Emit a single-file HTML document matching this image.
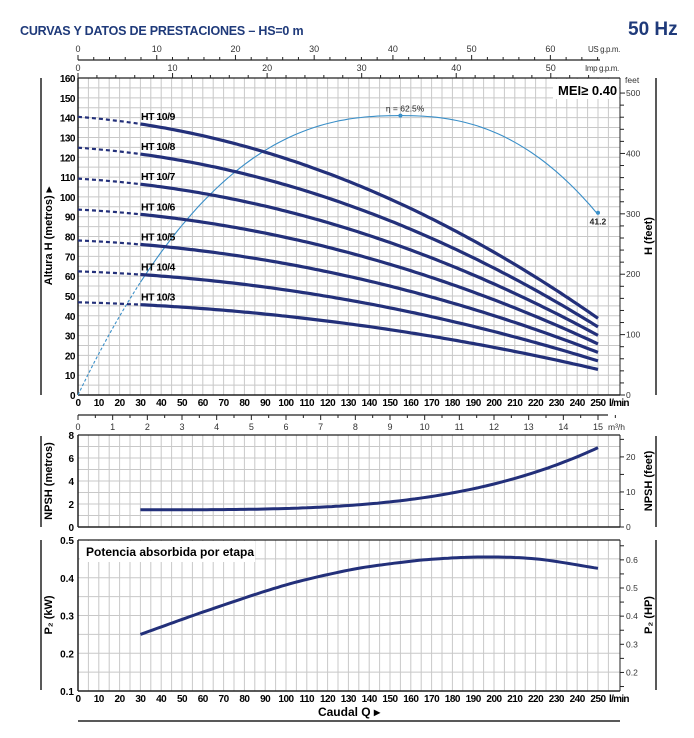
<!DOCTYPE html>
<html><head><meta charset="utf-8"><style>
body{margin:0;background:#fff;}
svg text{font-family:"Liberation Sans",sans-serif;}
</style></head><body>
<svg id="s" width="694" height="733" viewBox="0 0 694 733" xmlns="http://www.w3.org/2000/svg">
<text x="20" y="35" font-size="12.5" font-weight="bold" fill="#1f3a7a" letter-spacing="-0.2">CURVAS Y DATOS DE PRESTACIONES  –  HS=0 m</text>
<text x="628" y="35" font-size="19" font-weight="bold" fill="#1f3a7a">50 Hz</text>
<g id="g"></g>
</svg>
<script>
var g=document.getElementById('g');var h='';
var X0=78,PX=2.08;function X(q){return X0+q*PX;}
var XR=620;
function line(x1,y1,x2,y2,c,w,extra){h+='<line x1="'+x1+'" y1="'+y1+'" x2="'+x2+'" y2="'+y2+'" stroke="'+c+'" stroke-width="'+w+'" '+(extra||'')+'/>';}
function txt(x,y,t,fs,a,extra){h+='<text x="'+x+'" y="'+y+'" font-size="'+fs+'" text-anchor="'+(a||'start')+'" '+(extra||'')+'>'+t+'</text>';}
function path(pts,c,w,extra){var d='M'+pts.map(function(p){return p[0].toFixed(1)+','+p[1].toFixed(1)}).join('L');h+='<path d="'+d+'" fill="none" stroke="'+c+'" stroke-width="'+w+'" '+(extra||'')+'/>';}
var GC='#c8c8c8';
function grid(top,bot){for(var q=5;q<260;q+=5){line(X(q),top,X(q),bot,GC,1);}}
var T=78,B=395,YM=(B-T)/160;function Y(v){return B-v*YM;}
grid(T,B);
for(var v=5;v<160;v+=5)line(X0,Y(v),XR,Y(v),GC,1);
line(X0,T,XR,T,'#222',1.2);line(X0,B,XR,B,'#222',1.5);line(X0,T,X0,B,'#222',1.5);line(XR,T,XR,B,'#222',1);
h+='<rect x="553" y="79" width="66" height="20" fill="#fff"/>';
txt(558,95,'MEI≥ 0.40',13,'start','font-weight="bold"');
for(var v=0;v<=160;v+=10)txt(75,Y(v)+4,v,10,'end','font-weight="bold" letter-spacing="-0.5"');
for(var q=0;q<=250;q+=10)txt(X(q),406,q,10,'middle','font-weight="bold" letter-spacing="-0.5"');
txt(609,406,'l/min',10,'start','font-weight="bold" letter-spacing="-0.7"');
for(var f=0;f<=500;f+=20){var y=Y(f*0.3048);if(y<T-14)continue;line(XR,y,XR+(f%100==0?5:4),y,'#222',1);}
for(var f=0;f<=500;f+=100){txt(XR+6,Y(f*0.3048)+3,f,8.5,'start','fill="#333"');}
txt(XR+5,83,'feet',8.5,'start','fill="#333"');
line(656,78,656,395,'#222',1.5);line(41,78,41,395,'#222',1.5);
txt(0,0,'Altura H (metros)  ▸',11,'middle','font-weight="bold" transform="translate(52,236) rotate(-90)"');
txt(0,0,'H  (feet)',11,'middle','font-weight="bold" transform="translate(652,236) rotate(-90)"');
line(X0,60,XR-20,60,'#222',1.2);
for(var gp=0;gp<=66;gp+=2){var x=X0+gp*3.785*PX;if(x>XR-18)break;line(x,60,x,gp%10==0?55:57,'#222',1);}
for(var gp=0;gp<=60;gp+=10)txt(X0+gp*3.785*PX,52,gp,9,'middle','fill="#333"');
txt(588,52,'US g.p.m.',8,'start','fill="#333" letter-spacing="-0.4"');
for(var gp=0;gp<=56;gp+=2){var x=X0+gp*4.546*PX;if(x>XR-18)break;line(x,78,x,gp%10==0?73:75,'#222',1);}
for(var gp=0;gp<=50;gp+=10)txt(X0+gp*4.546*PX,71,gp,9,'middle','fill="#333"');
txt(585,71,'Imp g.p.m.',8,'start','fill="#333" letter-spacing="-0.4"');
line(X0,415,XR-12,415,'#222',1.2);
for(var m=0;m<=15.5;m+=0.5){var x=X0+m*16.667*PX;line(x,415,x,m%1==0?420:418,'#222',1);}
for(var m=0;m<=15;m++)txt(X0+m*16.667*PX,430,m,9,'middle','fill="#333"');
txt(608,430,'m³/h',8.5,'start','fill="#333"');
var ec=[],ed=[];
for(var q=0;q<=250;q+=2){var u=(q-155)/155;var e=141*(1-Math.pow(Math.abs(u),2.4));if(q>155)e=141*(1-Math.pow(Math.abs(u),2.4)*1.146);var p=[X(q),Y(e)];if(q<=30)ed.push(p);if(q>=30)ec.push(p);}
path(ed,'#3a8fc8',1.1,'stroke-dasharray="3,2"');path(ec,'#3a8fc8',1.1);
h+='<circle cx="'+X(155)+'" cy="'+Y(141)+'" r="2" fill="#3a8fc8"/><circle cx="'+X(250)+'" cy="'+Y(92)+'" r="2" fill="#3a8fc8"/>';
txt(X(148),Y(141)-4,'η = 62.5%',8.5,'start','fill="#222"');
txt(X(246),Y(92)+12,'41.2',8.5,'start','font-weight="bold" fill="#222"');
var CC='#23307a';
function hs(q){return 15.6-0.00899*q-1.4485e-4*q*q;}
for(var n=3;n<=9;n++){var d=[],s=[];for(var q=0;q<=30;q+=2)d.push([X(q),Y(n*hs(q))]);for(var q=30;q<=250;q+=2)s.push([X(q),Y(n*hs(q))]);
path(d,CC,2.2,'stroke-dasharray="4,3"');path(s,CC,3.2);
txt(141,Y(n*hs(30))-4,'HT 10/'+n,10.5,'start','font-weight="bold" letter-spacing="-0.5"');}
var NT=435,NB=527;function NY(v){return NB-v*(NB-NT)/8;}
grid(NT,NB);for(var v=1;v<8;v++)line(X0,NY(v),XR,NY(v),GC,1);
line(X0,NT,XR,NT,'#222',1.2);line(X0,NB,XR,NB,'#222',1.5);line(X0,NT,X0,NB,'#222',1.5);line(XR,NT,XR,NB,'#222',1);
for(var v=0;v<=8;v+=2)txt(74,NY(v)+4,v,10,'end','font-weight="bold"');
for(var f=0;f<=26;f+=5){var y=NY(f*0.3048);line(XR,y,XR+4,y,'#222',1);if(f%10==0)txt(XR+6,y+3,f,8.5,'start','fill="#333"');}
line(41,436,41,527,'#222',1.5);line(656,436,656,527,'#222',1.5);
txt(0,0,'NPSH (metros)',11,'middle','font-weight="bold" transform="translate(52,481) rotate(-90)"');
txt(0,0,'NPSH  (feet)',11,'middle','font-weight="bold" transform="translate(652,481) rotate(-90)"');
var np=[];for(var q=30;q<=250;q+=2){np.push([X(q),NY(1.5+5.4*Math.pow((q-30)/220,3.41))]);}
path(np,CC,3);
var PT=540,PB=691;function PY(v){return PB-(v-0.1)*(PB-PT)/0.4;}
grid(PT,PB);for(var v=0.15;v<0.5;v+=0.05)line(X0,PY(v),XR,PY(v),GC,1);
h+='<rect x="80" y="541" width="175" height="21" fill="#fff"/>';
txt(86,556,'Potencia absorbida por etapa',12,'start','font-weight="bold"');
line(X0,PT,XR,PT,'#222',1.2);line(X0,PB,XR,PB,'#222',1.5);line(X0,PT,X0,PB,'#222',1.5);line(XR,PT,XR,PB,'#222',1);
for(var v=1;v<=5;v++)txt(74,PY(v/10)+4,(v/10).toFixed(1),10,'end','font-weight="bold"');
for(var hp=0.15;hp<=0.66;hp+=0.05){var y=PY(hp*0.7457);line(XR,y,XR+4,y,'#222',1);}
for(var hp=2;hp<=6;hp++){txt(XR+6,PY(hp/10*0.7457)+3,'0.'+hp,8.5,'start','fill="#333"');}
line(41,540,41,690,'#222',1.5);line(656,540,656,690,'#222',1.5);
txt(0,0,'P₂  (kW)',11,'middle','font-weight="bold" transform="translate(52,615) rotate(-90)"');
txt(0,0,'P₂  (HP)',11,'middle','font-weight="bold" transform="translate(652,615) rotate(-90)"');
var pk=[[30,.25],[60,.309],[100,.381],[130,.42],[150,.437],[170,.449],[195,.455],[220,.45],[250,.425]];
function interp(q){for(var i=0;i<pk.length-1;i++){if(q<=pk[i+1][0]){var p0=pk[Math.max(0,i-1)],p1=pk[i],p2=pk[i+1],p3=pk[Math.min(pk.length-1,i+2)];var t=(q-p1[0])/(p2[0]-p1[0]);var m1=(p2[1]-p0[1])/(p2[0]-p0[0])*(p2[0]-p1[0]),m2=(p3[1]-p1[1])/(p3[0]-p1[0])*(p2[0]-p1[0]);var t2=t*t,t3=t2*t;return (2*t3-3*t2+1)*p1[1]+(t3-2*t2+t)*m1+(-2*t3+3*t2)*p2[1]+(t3-t2)*m2;}}return pk[pk.length-1][1];}
var pp=[];for(var q=30;q<=250;q+=2)pp.push([X(q),PY(interp(q))]);path(pp,CC,3);
for(var q=0;q<=250;q+=10)txt(X(q),702,q,10,'middle','font-weight="bold" letter-spacing="-0.5"');
txt(609,702,'l/min',10,'start','font-weight="bold" letter-spacing="-0.7"');
txt(380,716,'Caudal Q  ▸',12,'end','font-weight="bold"');
line(78,721,620,721,'#222',1.5);
g.innerHTML=h;
</script>
</body></html>
